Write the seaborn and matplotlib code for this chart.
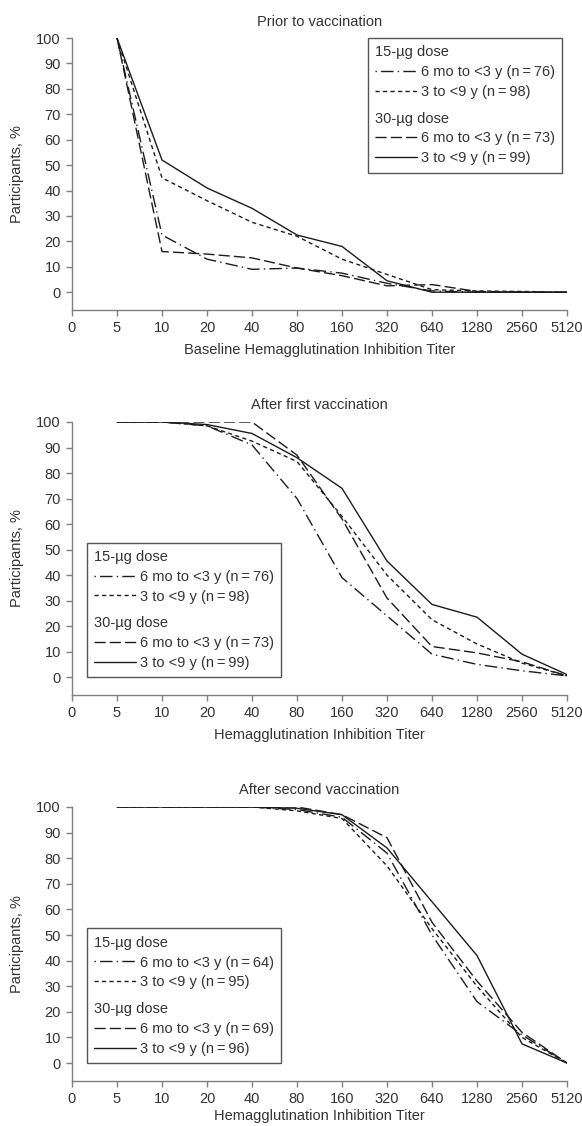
import numpy as np
import pandas as pd
import matplotlib
matplotlib.use("Agg")
import matplotlib.pyplot as plt
from matplotlib.lines import Line2D
import seaborn as sns

# titer categories (x axis), first tick "0" carries no data
titers = ["5", "10", "20", "40", "80", "160", "320", "640", "1280", "2560", "5120"]
tick_labels = ["0"] + titers

# prior to vaccination
prior_15_young = [100, 22.5, 13, 9, 9.5, 7.5, 3.5, 0.5, 0, 0, 0]
prior_15_old = [100, 45, 36, 27.5, 22, 13, 7, 1, 0.5, 0.3, 0]
prior_30_young = [100, 16, 15, 13.5, 9.5, 6.5, 2.5, 3, 0.3, 0, 0]
prior_30_old = [100, 52, 41, 33, 22.5, 18, 4.5, 0, 0, 0, 0]

# after first vaccination
first_15_young = [100, 100, 98.5, 91, 70, 39, 24, 9, 5, 2.5, 0.5]
first_15_old = [100, 100, 98.5, 92.5, 84.5, 63, 40, 22.5, 13, 5.5, 0.5]
first_30_young = [100, 100, 100, 100, 87, 62, 31, 12, 9.5, 6, 0.5]
first_30_old = [100, 100, 99, 95.5, 86, 74, 45.5, 28.5, 23.5, 9, 1]

# after second vaccination
second_15_young = [100, 100, 100, 100, 99, 96, 82, 50, 24, 11, 0]
second_15_old = [100, 100, 100, 100, 98.5, 95.5, 77, 52.5, 30, 10, 0]
second_30_young = [100, 100, 100, 100, 100, 97, 88, 55, 32, 12, 0]
second_30_old = [100, 100, 100, 100, 99.5, 97, 84, 63, 42, 7.5, 0]

titles = ["Prior to vaccination", "After first vaccination", "After second vaccination"]
xlabels = ["Baseline Hemagglutination Inhibition Titer",
           "Hemagglutination Inhibition Titer",
           "Hemagglutination Inhibition Titer"]
n_values = [(76, 98, 73, 99), (76, 98, 73, 99), (64, 95, 69, 96)]

series_keys = ["15 young", "15 old", "30 young", "30 old"]
dash_map = {"15 young": (1, 3, 9, 3), "15 old": (3, 2.4), "30 young": (8, 3), "30 old": ""}

sns.set_style("ticks")
plt.rcParams["font.family"] = ["Liberation Sans", "DejaVu Sans"]
FS = 10.5
TXT = "#333333"
AX = "#808080"
LINE = "#1c1c1c"
TH = "\u2009"

fig = plt.figure(figsize=(5.82, 11.26), dpi=100)
H = 1126.0
tops = [38, 422, 807]
bottoms = [310, 695, 1081]
xlabel_pads = [6, 6, 2]

panels = [
    [prior_15_young, prior_15_old, prior_30_young, prior_30_old],
    [first_15_young, first_15_old, first_30_young, first_30_old],
    [second_15_young, second_15_old, second_30_young, second_30_old],
]

for i, vals in enumerate(panels):
    ax = fig.add_axes([72 / 582, (H - bottoms[i]) / H, 495 / 582, (bottoms[i] - tops[i]) / H])
    rows = []
    for key, ys in zip(series_keys, vals):
        for j, y in enumerate(ys):
            rows.append({"pos": j + 1, "pct": y, "series": key})
    df = pd.DataFrame(rows)
    sns.lineplot(data=df, x="pos", y="pct", style="series", style_order=series_keys,
                 dashes=dash_map, color=LINE, lw=1.0, legend=False, ax=ax)

    ax.set_xlim(0, 11)
    ax.set_ylim(-7, 100)
    ax.set_xticks(range(12))
    ax.set_xticklabels(tick_labels)
    ax.set_yticks(range(0, 101, 10))
    sns.despine(ax=ax)
    for s in ["left", "bottom"]:
        ax.spines[s].set_color(AX)
        ax.spines[s].set_linewidth(1.0)
    ax.tick_params(colors=AX, labelcolor=TXT, labelsize=FS, length=4, width=1.0, pad=4)
    ax.set_title(titles[i], fontsize=FS, color=TXT, pad=9)
    ax.set_xlabel(xlabels[i], fontsize=FS, color=TXT, labelpad=xlabel_pads[i])
    ax.set_ylabel("Participants, %", fontsize=FS, color=TXT, labelpad=9)

    n = n_values[i]
    blank = Line2D([], [], color="none")
    handles = [blank,
               Line2D([], [], color=LINE, lw=1.0, dashes=dash_map["15 young"]),
               Line2D([], [], color=LINE, lw=1.0, dashes=dash_map["15 old"]),
               blank,
               Line2D([], [], color=LINE, lw=1.0, dashes=dash_map["30 young"]),
               Line2D([], [], color=LINE, lw=1.0)]
    labels = ["15-µg dose",
              f"6 mo to <3 y (n{TH}={TH}{n[0]})",
              f"3 to <9 y (n{TH}={TH}{n[1]})",
              "30-µg dose",
              f"6 mo to <3 y (n{TH}={TH}{n[2]})",
              f"3 to <9 y (n{TH}={TH}{n[3]})"]
    if i == 0:
        loc, anchor = "upper right", (0.99, 1.0)
    else:
        loc, anchor = "lower left", (0.03, 7 / 107)
    leg = ax.legend(handles, labels, loc=loc, bbox_to_anchor=anchor, fontsize=FS,
                    handlelength=2.9, handletextpad=0.25, labelspacing=0.4,
                    borderpad=0.5, borderaxespad=0, fancybox=False, framealpha=1,
                    edgecolor="#555555", labelcolor=TXT)
    leg.get_frame().set_linewidth(1.0)
    # header rows: drop the handle box so the text starts at the left edge,
    # and give the second header a little extra room above it
    for vpack in leg._legend_handle_box.get_children():
        for hpack in vpack.get_children():
            hbox, tbox = hpack.get_children()[0], hpack.get_children()[1]
            txt = tbox.get_children()[0].get_text()
            if txt.endswith("dose"):
                hbox.set_width(0)
                hpack.sep = 0
                if txt.startswith("30"):
                    hbox.set_height(hbox.height + 5.5)

fig.savefig("out.png", dpi=100)
